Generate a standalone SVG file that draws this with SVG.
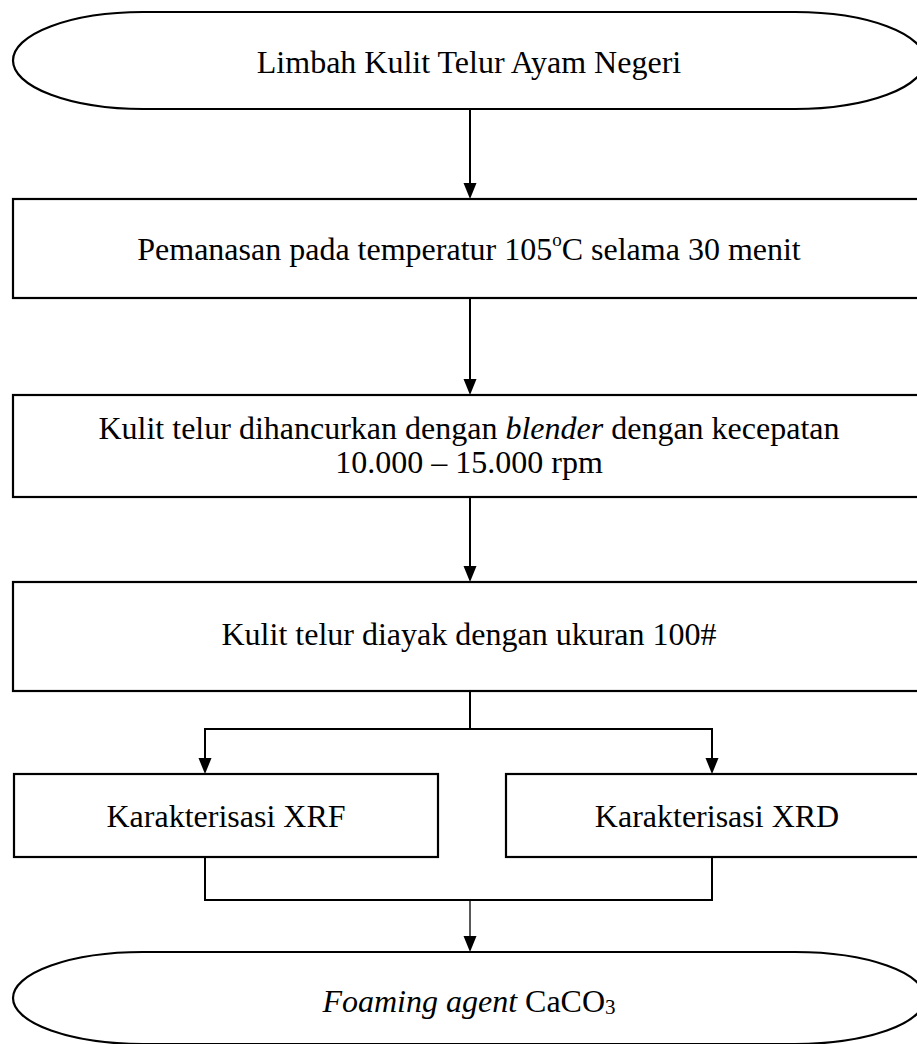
<svg xmlns="http://www.w3.org/2000/svg" width="917" height="1044" viewBox="0 0 917 1044">
<style>
.shape{fill:#fff;stroke:#000;stroke-width:2.2}
.t{font-family:"Liberation Serif","Times New Roman",serif;font-size:32px;fill:#000;text-anchor:middle}
.c{fill:none;stroke:#000;stroke-width:2}
.thin{fill:none;stroke:#000;stroke-width:1.3}
</style>
<defs>
<marker id="ah" markerUnits="userSpaceOnUse" markerWidth="16" markerHeight="14" refX="12" refY="7" orient="auto">
<path d="M0,0.5 L16,7 L0,13.5 z" fill="#000"/>
</marker>
</defs>
<g id="connectors">
<line class="c" x1="470" y1="110" x2="470" y2="195" marker-end="url(#ah)"/>
<line class="c" x1="470" y1="298" x2="470" y2="391" marker-end="url(#ah)"/>
<line class="c" x1="470" y1="497" x2="470" y2="578" marker-end="url(#ah)"/>
<polyline class="c" points="470,691 470,729"/>
<polyline class="c" points="205,770 205,729 712,729 712,770"/>
<line class="c" x1="205" y1="729" x2="205" y2="770" marker-end="url(#ah)"/>
<line class="c" x1="712" y1="729" x2="712" y2="770" marker-end="url(#ah)"/>
<polyline class="c" points="205,857 205,900 712,900 712,857"/>
<line class="thin" x1="470" y1="900" x2="470" y2="948" marker-end="url(#ah)"/>
</g>
<g id="start">
<rect class="shape" x="13" y="12" width="912" height="97" rx="130" ry="48.5"/>
<text class="t" x="469" y="73">Limbah Kulit Telur Ayam Negeri</text>
</g>
<g id="heating">
<rect class="shape" x="13" y="199" width="910" height="99"/>
<text class="t" x="469" y="260">Pemanasan pada temperatur 105<tspan font-size="19" dy="-14">o</tspan><tspan dy="14">C selama 30 menit</tspan></text>
</g>
<g id="crushing">
<rect class="shape" x="13" y="395" width="910" height="102"/>
<text class="t" x="469" y="439">Kulit telur dihancurkan dengan <tspan font-style="italic">blender</tspan> dengan kecepatan</text>
<text class="t" x="469" y="473">10.000 – 15.000 rpm</text>
</g>
<g id="sieving">
<rect class="shape" x="13" y="582" width="910" height="109"/>
<text class="t" x="469" y="645">Kulit telur diayak dengan ukuran 100#</text>
</g>
<g id="xrf">
<rect class="shape" x="14" y="774" width="424" height="83"/>
<text class="t" x="226" y="827">Karakterisasi XRF</text>
</g>
<g id="xrd">
<rect class="shape" x="506" y="774" width="422" height="83"/>
<text class="t" x="717" y="827">Karakterisasi XRD</text>
</g>
<g id="end">
<rect class="shape" x="13" y="952" width="912" height="92" rx="130" ry="46"/>
<text class="t" x="469" y="1012"><tspan font-style="italic">Foaming agent</tspan> CaCO<tspan font-size="21" dy="2">3</tspan></text>
</g>
</svg>
